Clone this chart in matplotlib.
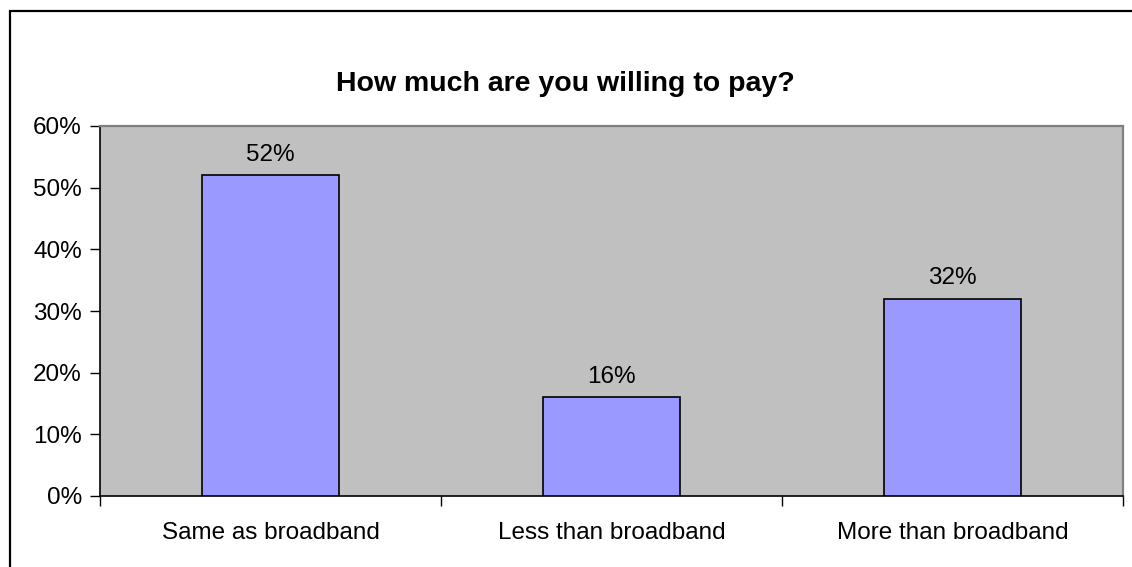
import matplotlib
matplotlib.use("Agg")
import matplotlib.pyplot as plt
from matplotlib.patches import Rectangle
from matplotlib.ticker import FixedLocator, NullFormatter, FixedFormatter

categories = ["Same as broadband", "Less than broadband", "More than broadband"]
values = [52, 16, 32]
title = "How much are you willing to pay?"
yticks = [0, 10, 20, 30, 40, 50, 60]

plt.rcParams['font.family'] = ['Liberation Sans', 'DejaVu Sans']

W, H = 1132, 567
fig = plt.figure(figsize=(W / 100, H / 100), dpi=100)
fig.patch.set_facecolor("white")

# outer chart border (only top/left visible in the crop)
fig.add_artist(Rectangle((9.5 / W, -0.1), 1.2, 1 - 10.5 / H + 0.1,
                         transform=fig.transFigure, fill=False,
                         edgecolor="black", linewidth=1.6))

left, right, top, bottom = 100, 1123, 126, 496
ax = fig.add_axes([left / W, 1 - bottom / H, (right - left) / W, (bottom - top) / H])
ax.set_facecolor("#C0C0C0")

FS = 17.5
x = list(range(len(categories)))
ax.bar(x, values, width=0.40, color="#9999FF", edgecolor="black", linewidth=1.2, zorder=3)
for xi, v in zip(x, values):
    ax.annotate(f"{v}%", (xi, v), xytext=(0, 7), textcoords="offset points",
                ha="center", va="bottom", fontsize=FS)

ax.set_xlim(-0.5, len(categories) - 0.5)
ax.set_ylim(0, 60)
ax.set_yticks(yticks)
ax.set_yticklabels([f"{t}%" for t in yticks], fontsize=FS)

# category boundaries as ticks, labels at centers
ax.xaxis.set_major_locator(FixedLocator([-0.5 + i for i in range(len(categories) + 1)]))
ax.xaxis.set_major_formatter(NullFormatter())
ax.xaxis.set_minor_locator(FixedLocator(x))
ax.xaxis.set_minor_formatter(FixedFormatter(categories))
ax.tick_params(axis="x", which="minor", length=0, pad=19, labelsize=FS)
ax.tick_params(axis="x", which="major", length=7, width=1, direction="out")
ax.tick_params(axis="y", length=7, width=1, direction="out", pad=6)

for s in ["left", "bottom"]:
    ax.spines[s].set_color("black")
    ax.spines[s].set_linewidth(1.2)
for s in ["top", "right"]:
    ax.spines[s].set_color("#808080")
    ax.spines[s].set_linewidth(1.6)

fig.text(565 / W, 1 - 84 / H, title, ha="center", va="center",
         fontsize=20.5, fontweight="bold")

fig.savefig("out.png", dpi=100)
